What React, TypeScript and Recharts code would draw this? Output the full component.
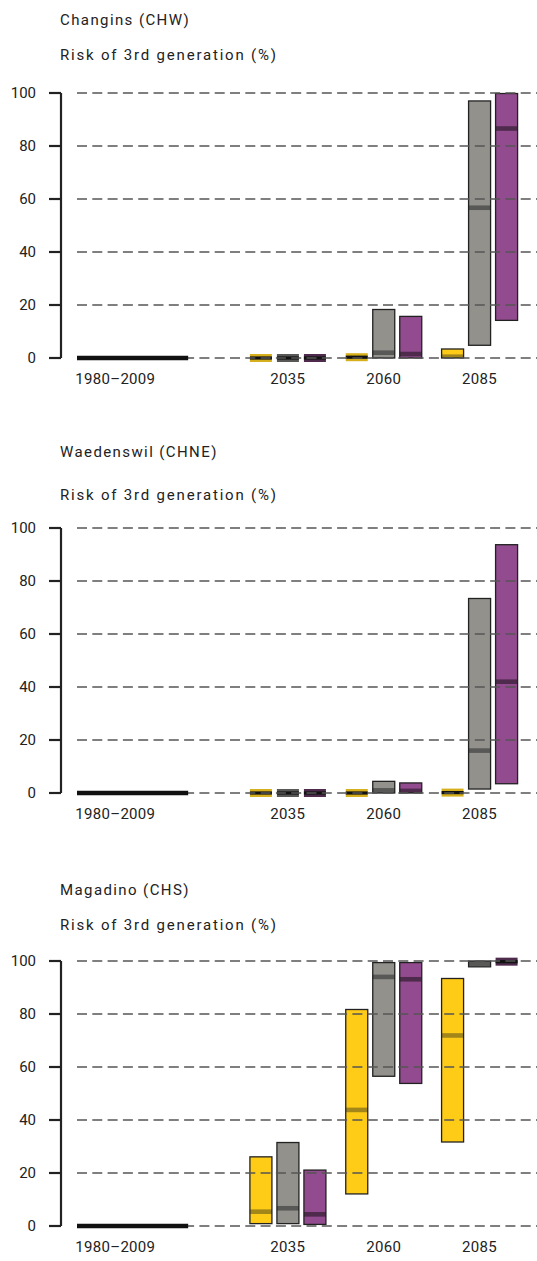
import { ComposedChart, Bar, Line, XAxis, YAxis, ReferenceLine } from "recharts";

const stations = ["Changins (CHW)", "Waedenswil (CHNE)", "Magadino (CHS)"];
const yTitle = "Risk of 3rd generation (%)";
const periods = [2035, 2060, 2085];
const tickYears = [1990, 2035, 2060, 2085];
const tickLabels = ["1980–2009", "2035", "2060", "2085"];
const refSpan = [1980, 2009];
const gridValues = [0, 20, 40, 60, 80, 100];

// [low, median, high] for each period
const chwYellow = [[0, 0, 0], [0, 0, 0.6], [0, 0.5, 3.4]];
const chwGrey = [[0, 0, 0], [0, 2, 18.3], [4.8, 56.7, 97]];
const chwPurple = [[0, 0, 0], [0, 1.5, 15.7], [14.2, 86.6, 99.8]];

const chneYellow = [[0, 0, 0], [0, 0, 0], [0, 0, 0.3]];
const chneGrey = [[0, 0, 0], [0, 1, 4.4], [1.5, 16, 73.4]];
const chnePurple = [[0, 0, 0], [0, 0.8, 3.8], [3.5, 42, 93.7]];

const chsYellow = [[0.9, 5.4, 26.1], [12.1, 43.8, 81.7], [31.7, 71.9, 93.4]];
const chsGrey = [[0.9, 6.7, 31.5], [56.5, 94, 99.4], [97.8, 99, 100]];
const chsPurple = [[0.6, 4.4, 21.1], [53.8, 93.1, 99.4], [99.5, 99.8, 100]];

const colors = {
  a: { fill: "#fecb17", med: "#a3861a", flat: "#d6af1c" },
  b: { fill: "#92918c", med: "#585856", flat: "#585856" },
  c: { fill: "#924b8e", med: "#4e2b4c", flat: "#4e2b4c" },
};

const FONT = "Roboto, sans-serif";
const INK = "#222";
const TOP_PAD = 12;

// page positions of each panel: plot top, title top, subtitle top
const layout = [
  { plotTop: 93, title: 13, sub: 48 },
  { plotTop: 528, title: 445, sub: 488 },
  { plotTop: 961, title: 883, sub: 918 },
];

function buildRows(a: number[][], b: number[][], c: number[][]) {
  return periods.map((year, i) => ({
    year,
    a: [a[i][0], a[i][2]],
    aMed: a[i][1],
    b: [b[i][0], b[i][2]],
    bMed: b[i][1],
    c: [c[i][0], c[i][2]],
    cMed: c[i][1],
  }));
}

const panels = [
  buildRows(chwYellow, chwGrey, chwPurple),
  buildRows(chneYellow, chneGrey, chnePurple),
  buildRows(chsYellow, chsGrey, chsPurple),
];

const baseline = refSpan.map((year) => ({ year, v: 0 }));

const boxShape = (key: "a" | "b" | "c") => (p: any) => {
  const { x, y, width, height, payload } = p;
  const col = colors[key];
  const [lo, hi] = payload[key];
  const med = payload[key + "Med"];
  const top = Math.min(y, y + height);
  const h = Math.abs(height);
  if (hi - lo < 1) {
    const cy = top + h / 2;
    return (
      <g>
        <rect x={x} y={cy - 4} width={width} height={8} fill={col.flat} />
        <line x1={x} x2={x + width} y1={cy} y2={cy} stroke="#111" strokeWidth={3.2} />
      </g>
    );
  }
  const medY = top + (h * (hi - med)) / (hi - lo);
  const bandTop = Math.max(top, medY - 2.3);
  const bandBottom = Math.min(top + h, medY + 2.3);
  return (
    <g>
      <rect x={x} y={top} width={width} height={h} fill={col.fill} />
      <rect x={x} y={bandTop} width={width} height={bandBottom - bandTop} fill={col.med} />
      <rect x={x} y={top} width={width} height={h} fill="none" stroke={INK} strokeWidth={1.3} />
    </g>
  );
};

function Panel({ rows }: { rows: any[] }) {
  return (
    <ComposedChart
      width={537}
      height={265 + TOP_PAD + 50}
      data={rows}
      margin={{ top: TOP_PAD, right: 0, bottom: 0, left: 0 }}
      barSize={22}
      barGap={5}
    >
      <XAxis
        dataKey="year"
        type="number"
        domain={[1980, 2100]}
        ticks={tickYears}
        interval={0}
        padding={{ left: 16, right: 0 }}
        height={50}
        axisLine={false}
        tickLine={false}
        tickMargin={9}
        tick={{ fill: INK, fontSize: 15, fontFamily: FONT, letterSpacing: 0.3 }}
        tickFormatter={(v: number) => tickLabels[tickYears.indexOf(v)] ?? ""}
      />
      <YAxis
        domain={[0, 100]}
        ticks={gridValues}
        interval={0}
        width={61}
        tickSize={12}
        tickMargin={13}
        axisLine={{ stroke: INK, strokeWidth: 2.2 }}
        tickLine={{ stroke: INK, strokeWidth: 2.2 }}
        tick={{ fill: INK, fontSize: 15, fontFamily: FONT }}
      />
      {gridValues.map((v) => (
        <ReferenceLine
          key={v}
          segment={[
            { x: 1980, y: v },
            { x: 2100, y: v },
          ]}
          stroke="#555"
          strokeWidth={1.3}
          strokeDasharray="10 5.3"
        />
      ))}
      <Line
        data={baseline}
        dataKey="v"
        stroke="#111"
        strokeWidth={4.5}
        dot={false}
        activeDot={false}
        isAnimationActive={false}
      />
      <Bar dataKey="a" shape={boxShape("a")} isAnimationActive={false} />
      <Bar dataKey="b" shape={boxShape("b")} isAnimationActive={false} />
      <Bar dataKey="c" shape={boxShape("c")} isAnimationActive={false} />
    </ComposedChart>
  );
}

const textStyle = {
  position: "absolute" as const,
  left: 60,
  fontFamily: FONT,
  fontSize: 15,
  lineHeight: "15px",
  color: INK,
  whiteSpace: "nowrap" as const,
};

export default function App() {
  return (
    <div style={{ position: "relative", width: 537, height: 1261, background: "#fff" }}>
      <style>{"body{margin:0}"}</style>
      {panels.map((rows, i) => (
        <div key={stations[i]}>
          <div style={{ ...textStyle, top: layout[i].title, letterSpacing: 1.4 }}>{stations[i]}</div>
          <div style={{ ...textStyle, top: layout[i].sub, letterSpacing: 1.8 }}>{yTitle}</div>
          <div style={{ position: "absolute", left: 0, top: layout[i].plotTop - TOP_PAD }}>
            <Panel rows={rows} />
          </div>
        </div>
      ))}
    </div>
  );
}
